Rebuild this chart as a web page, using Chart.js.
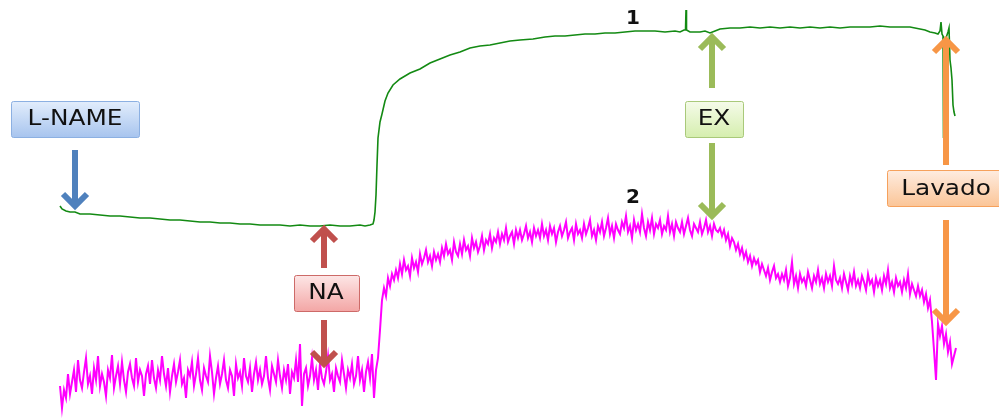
<!DOCTYPE html>
<html>
<head>
<meta charset="utf-8">
<title>Registro de tensión</title>
<script src="https://cdn.jsdelivr.net/npm/chart.js@4.4.1/dist/chart.umd.min.js"></script>
<style>
  html, body { margin: 0; padding: 0; background: #ffffff; }
  #wrap { width: 999px; height: 419px; }
</style>
</head>
<body>
<div id="wrap"><canvas id="c" width="999" height="419"></canvas></div>
<script>
// Trace 1 (green): time (s) and tension (arbitrary units)
const trace1Time = [60,62,66,70,75,80,90,100,110,120,130,140,150,160,170,180,190,200,210,220,230,240,250,260,270,280,290,300,310,320,330,340,350,360,365,370,373,374,375,376,377,378,380,382,385,388,393,400,410,420,430,440,450,460,470,480,490,500,510,520,533,545,555,565,575,585,595,605,615,625,635,645,655,665,675,680,684,685.5,686,686.5,690,700,705,710,715,720,730,740,750,760,770,780,790,800,810,820,830,840,850,860,870,880,890,900,910,920,925,930,935,938,940,941,942,943,943.5,944,946,948,949,950,951,952,953,954,955];
const trace1Value = [194,191,189,188,188,186,186,185,184,184,183,182,182,181,180,180,179,178,178,177,177,176,176,175,175,175,174,175,174,174,175,174,174,175,174,175,176,180,188,205,235,262,278,286,299,307,315,321,327,331,337,341,345,348,352,354,355,357,359,360,361,363,364,364,365,366,366,367,367,368,369,369,369,368,369,368,370,370,390,370,368,368,369,367,369,371,372,372,373,372,373,372,373,372,373,372,373,372,373,373,373,374,373,373,373,371,370,368,367,366,369,378,366,364,262,358,362,368,372,340,332,320,295,288,284];

// Trace 2 (magenta): sampled every 2 s from t = 60 s
const trace2Start = 60;
const trace2Step = 2;
const trace2Value = [
  14,-8,10,2,26,6,18,30,8,40,   20,12,28,42,16,24,6,32,20,44,
  14,26,18,4,30,22,45,12,24,34, 16,38,20,8,28,36,22,14,42,18,
  30,24,4,26,34,16,40,22,12,30, 20,44,26,14,32,8,24,36,18,28,
  40,16,22,2,30,24,38,14,26,42, 20,10,32,24,18,44,28,6,22,34,
  16,26,40,20,12,30,24,4,36,22, 28,14,42,24,18,32,8,26,38,20,
  30,16,24,44,22,10,34,26,18,40, 24,12,30,20,36,6,28,22,40,18,
  56,-6,26,32,14,24,42,20,30,10, 36,22,16,28,44,20,26,8,32,24,
  18,40,26,12,30,22,36,16,24,44, 20,30,8,28,38,22,46,2,30,42,
  70,100,112,104,122,114,126,120,130,122,
  136,126,140,130,134,124,142,132,138,128, 146,136,142,150,138,144,134,148,140,146,
  138,152,144,156,146,150,140,158,148,144, 156,146,160,150,154,144,162,152,158,148,
  154,164,150,160,156,166,152,162,158,168, 156,166,160,172,158,164,168,156,170,162,
  170,160,166,174,162,168,158,172,164,170, 162,176,164,170,160,174,166,172,158,168,
  174,164,170,178,162,168,172,160,176,166, 170,162,176,166,172,180,164,170,160,174,
  168,178,164,172,182,166,174,162,176,170, 166,178,172,184,168,174,162,180,170,176,
  168,186,172,164,178,170,182,166,176,172, 180,166,174,170,184,168,176,164,178,172,
  168,178,166,174,182,170,164,176,172,168, 178,166,172,180,168,174,164,176,170,168,
  172,164,170,160,166,154,162,158,150,156, 146,152,142,148,138,144,134,142,136,140,
  128,136,130,124,132,120,128,134,122,126, 118,126,120,130,114,122,138,116,124,112,
  126,118,122,114,128,120,112,124,118,130, 116,122,112,126,118,124,114,134,120,116,
  122,112,126,118,110,124,116,128,114,120, 112,124,118,110,126,116,120,108,122,114,
  120,110,124,116,130,112,118,108,122,114, 118,108,120,112,126,106,116,110,104,114,
  104,110,98,106,92,100,78,50,20,76, 64,74,56,66,48,58,36,44,52
];

// Trace labels and drug additions
const traceNames = ['1', '2'];
const traceLabelTime = [633, 633];
const traceLabelValue = [381, 202];
const markerNames = ['L-NAME', 'NA', 'EX', 'Lavado'];
const markerTimes = [75, 324, 712, 946];

const trace2Time = trace2Value.map((_, i) => trace2Start + i * trace2Step);
const pts = (t, v) => t.map((tt, i) => ({ x: tt, y: v[i] }));

// Layout of each marker (value units): label box centre and width, arrow segments [from, tip]
const markerLayout = [
  { boxX: 75,  boxY: 281,   boxW: 128, arrows: [[250, 193]], fill: ['#e2edfc', '#a7c4ee'], border: '#8cb0e2', arrow: '#4f81bd' },
  { boxX: 326, boxY: 107,   boxW: 65,  arrows: [[132, 172], [80, 35]], fill: ['#fde6e6', '#f3a6a5'], border: '#cd6a68', arrow: '#c0504d' },
  { boxX: 714, boxY: 281.5, boxW: 58,  arrows: [[312, 364], [257, 183]], fill: ['#f5fbe9', '#d5eeae'], border: '#a9c97a', arrow: '#9bbb59' },
  { boxX: 946, boxY: 211.5, boxW: 118, arrows: [[235, 361], [180, 77]], fill: ['#feece0', '#fbc597'], border: '#f6a15c', arrow: '#f79646' }
];

function drawArrow(ctx, px, y0, y1, color) {
  const dir = Math.sign(y1 - y0);
  ctx.save();
  ctx.strokeStyle = color;
  ctx.lineWidth = 6;
  ctx.lineCap = 'butt';
  ctx.beginPath();
  ctx.moveTo(px, y0);
  ctx.lineTo(px, y1 - dir * 3);
  ctx.stroke();
  ctx.lineJoin = 'miter';
  ctx.beginPath();
  ctx.moveTo(px - 12, y1 - dir * 13);
  ctx.lineTo(px, y1 - dir * 1);
  ctx.lineTo(px + 12, y1 - dir * 13);
  ctx.stroke();
  ctx.restore();
}

const markerPlugin = {
  id: 'markers',
  afterDatasetsDraw(chart) {
    const { ctx, scales: { x, y } } = chart;
    const stretch = 1.18;
    ctx.save();
    markerNames.forEach((name, i) => {
      const L = markerLayout[i];
      const ax = x.getPixelForValue(markerTimes[i]);
      L.arrows.forEach(([a, b]) => drawArrow(ctx, ax, y.getPixelForValue(a), y.getPixelForValue(b), L.arrow));

      const w = L.boxW, h = 36;
      const cx = x.getPixelForValue(L.boxX), cy = y.getPixelForValue(L.boxY);
      const bx = Math.round(cx - w / 2) + 0.5, by = Math.round(cy - h / 2) + 0.5;
      const g = ctx.createLinearGradient(0, by, 0, by + h);
      g.addColorStop(0, L.fill[0]);
      g.addColorStop(1, L.fill[1]);
      ctx.fillStyle = g;
      ctx.strokeStyle = L.border;
      ctx.lineWidth = 1;
      ctx.beginPath();
      ctx.roundRect(bx, by, w, h, 2);
      ctx.fill();
      ctx.stroke();

      ctx.save();
      ctx.translate(cx, cy + 1);
      ctx.scale(stretch, 1);
      ctx.font = '21px "DejaVu Sans"';
      ctx.fillStyle = '#111111';
      ctx.textAlign = 'center';
      ctx.textBaseline = 'middle';
      ctx.fillText(name, 0, 0);
      ctx.restore();
    });

    ctx.font = 'bold 20px "DejaVu Sans"';
    ctx.fillStyle = '#111111';
    ctx.textAlign = 'center';
    ctx.textBaseline = 'middle';
    traceNames.forEach((t, i) => {
      ctx.fillText(t, x.getPixelForValue(traceLabelTime[i]), y.getPixelForValue(traceLabelValue[i]));
    });
    ctx.restore();
  }
};

new Chart(document.getElementById('c'), {
  type: 'line',
  data: {
    datasets: [
      { label: traceNames[0], data: pts(trace1Time, trace1Value), borderColor: '#138a13', borderWidth: 1.6, pointRadius: 0, tension: 0 },
      { label: traceNames[1], data: pts(trace2Time, trace2Value), borderColor: '#ff00ff', borderWidth: 2, pointRadius: 0, tension: 0 }
    ]
  },
  options: {
    responsive: false,
    animation: false,
    layout: { padding: 0 },
    plugins: { legend: { display: false }, tooltip: { enabled: false } },
    scales: {
      x: { type: 'linear', display: false, min: 0, max: 999 },
      y: { type: 'linear', display: false, min: -19, max: 400 }
    }
  },
  plugins: [markerPlugin]
});
</script>
</body>
</html>
